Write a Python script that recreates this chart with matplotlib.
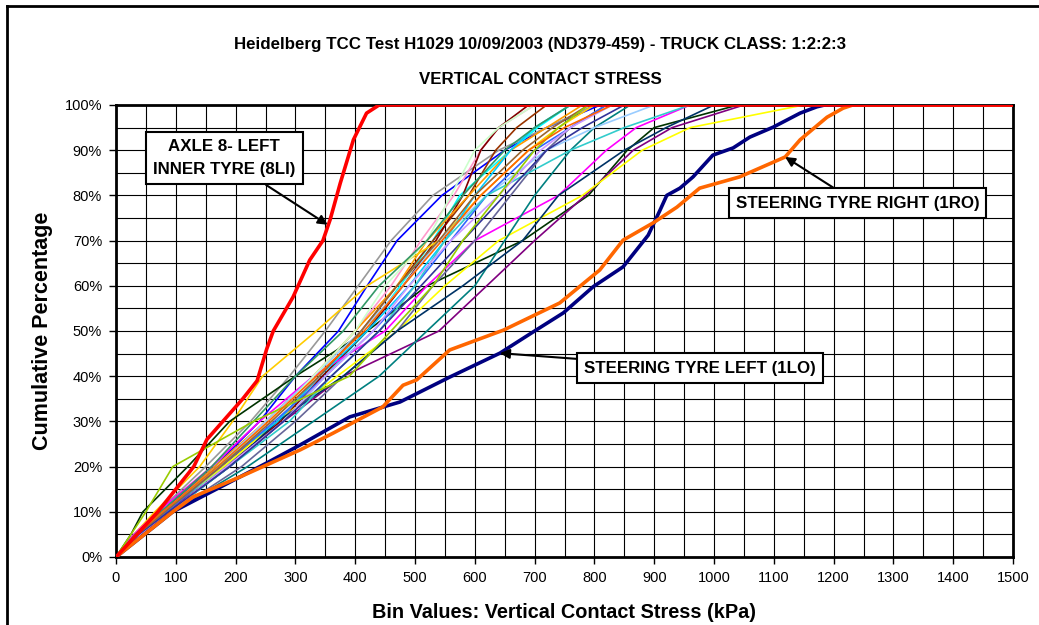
import matplotlib
matplotlib.use("Agg")
import matplotlib.pyplot as plt
from matplotlib.ticker import MultipleLocator, FuncFormatter
from matplotlib.lines import Line2D

plt.rcParams['font.family'] = ['Liberation Sans', 'DejaVu Sans']

# ---------------- data ----------------
title1 = "Heidelberg TCC Test H1029 10/09/2003 (ND379-459) - TRUCK CLASS: 1:2:2:3"
title2 = "VERTICAL CONTACT STRESS"
xlabel = "Bin Values: Vertical Contact Stress (kPa)"
ylabel = "Cumulative Percentage"

# common cumulative-percentage grid for the bundle series (last bin = 1500 kPa)
pct = [0, 5, 10, 20, 30, 40, 50, 60, 70, 80, 90, 95, 100, 100]

bundle_colors = [
    "#0000FF", "#999999", "#00FFFF", "#993300", "#FF99CC", "#800000",
    "#FF9900", "#FFCC00", "#003300", "#800080", "#FF00FF", "#FFFF00",
    "#008080", "#99CCFF", "#666699", "#003366", "#CCFFCC", "#00CCFF",
    "#3366FF", "#339966", "#33CCCC", "#CC99FF", "#333399", "#996633",
    "#99CC00", "#FF6600",
]
bundle_stress = [
    [0, 35, 75, 165, 240, 300, 372, 420, 470, 545, 650, 720, 810, 1500],   # blue
    [0, 30, 70, 150, 225, 290, 350, 405, 460, 530, 640, 720, 800, 1500],   # grey
    [0, 40, 85, 180, 280, 350, 420, 475, 530, 575, 660, 705, 760, 1500],   # cyan
    [0, 40, 85, 175, 270, 340, 410, 470, 530, 590, 635, 670, 720, 1500],   # sienna
    [0, 38, 80, 170, 260, 330, 400, 460, 510, 565, 610, 640, 700, 1500],   # pink
    [0, 40, 90, 185, 275, 345, 420, 480, 535, 580, 610, 640, 690, 1500],   # dark red
    [0, 35, 80, 165, 250, 330, 400, 470, 520, 590, 660, 720, 780, 1500],   # orange
    [0, 30, 65, 140, 195, 245, 335, 420, 540, 610, 690, 740, 800, 1500],   # gold
    [0, 25, 45, 120, 190, 300, 420, 520, 680, 790, 855, 900, 1040, 1500],  # dark green
    [0, 35, 85, 190, 280, 380, 540, 620, 700, 785, 865, 930, 1050, 1500],  # purple
    [0, 30, 70, 160, 240, 330, 450, 520, 600, 740, 820, 870, 960, 1500],   # magenta
    [0, 35, 80, 180, 270, 370, 470, 550, 640, 780, 880, 960, 1150, 1500],  # yellow
    [0, 40, 95, 220, 330, 440, 520, 600, 650, 700, 760, 800, 860, 1500],   # teal
    [0, 35, 80, 170, 250, 330, 410, 480, 540, 620, 720, 800, 900, 1500],   # light blue
    [0, 40, 95, 210, 300, 380, 470, 530, 600, 660, 720, 760, 820, 1500],   # slate
    [0, 38, 90, 190, 270, 380, 470, 580, 680, 740, 850, 920, 1000, 1500],  # dark slate
    [0, 35, 80, 170, 260, 330, 400, 450, 520, 560, 600, 640, 700, 1500],   # light green
    [0, 35, 80, 170, 270, 340, 420, 490, 550, 600, 660, 700, 760, 1500],   # sky blue
    [0, 38, 85, 175, 265, 350, 430, 500, 560, 620, 700, 760, 820, 1500],   # royal blue
    [0, 32, 75, 160, 230, 300, 380, 440, 520, 580, 650, 700, 760, 1500],   # sea green
    [0, 40, 90, 190, 290, 360, 440, 500, 550, 620, 760, 850, 960, 1500],   # turquoise
    [0, 40, 90, 185, 280, 350, 430, 490, 560, 640, 710, 760, 830, 1500],   # lavender
    [0, 38, 88, 190, 280, 360, 440, 510, 580, 650, 720, 780, 850, 1500],   # indigo
    [0, 36, 82, 175, 260, 340, 410, 470, 540, 600, 680, 730, 790, 1500],   # brown
    [0, 25, 50, 95, 230, 390, 460, 530, 580, 640, 700, 740, 790, 1500],    # yellow green
    [0, 34, 78, 170, 255, 335, 415, 480, 545, 610, 690, 750, 830, 1500],   # orange-red thin
]

# highlighted series (own percentage grids)
axle8_pct = [0, 10, 20, 26, 35, 39, 46, 50, 57.5, 65.7, 70, 74.6, 82.7, 92.3, 98.2, 100, 100]
axle8_stress = [0, 70, 130, 152, 212, 236, 252, 263, 296, 324, 346, 358, 375, 397, 419, 440, 1500]

steer_l_pct = [0, 10, 20.8, 24.8, 31, 34.3, 39.8, 45.1, 50, 54, 59.8, 64.2, 71.2, 76.8, 80, 81.6, 84.1, 88.9, 90.5, 92.9, 95.1, 98.2, 99.6, 100, 100]
steer_l_stress = [0, 95, 252, 308, 391, 475, 558, 642, 700, 748, 798, 848, 890, 910, 921, 943, 965, 998, 1032, 1060, 1099, 1144, 1172, 1185, 1500]

steer_r_pct = [0, 10, 13.3, 17.7, 23.7, 27.4, 33.2, 38, 39.2, 45.8, 50.2, 56.2, 63.5, 70.1, 73.9, 77.4, 81.6, 84.1, 88.5, 92.3, 97.3, 99.3, 100, 100]
steer_r_stress = [0, 95, 129, 207, 308, 363, 446, 480, 503, 558, 648, 742, 809, 848, 898, 938, 976, 1043, 1119, 1144, 1189, 1216, 1232, 1500]

# ---------------- figure ----------------
fig = plt.figure(figsize=(10.39, 6.25), dpi=100)
ax = fig.add_axes([116/1039, 1-557/625, (1013-116)/1039, (557-105)/625])

for xs, c in zip(bundle_stress, bundle_colors):
    ax.plot(xs, pct, color=c, lw=1.2, zorder=3, solid_joinstyle='round', clip_on=True)

ax.plot(steer_l_stress, steer_l_pct, color="#000080", lw=2.6, zorder=4)
ax.plot(steer_r_stress, steer_r_pct, color="#FF6600", lw=2.6, zorder=4)
ax.plot(axle8_stress, axle8_pct, color="#FF0000", lw=2.6, zorder=5)

ax.set_xlim(0, 1500)
ax.set_ylim(0, 100)
ax.xaxis.set_major_locator(MultipleLocator(100))
ax.xaxis.set_minor_locator(MultipleLocator(50))
ax.yaxis.set_major_locator(MultipleLocator(10))
ax.yaxis.set_minor_locator(MultipleLocator(5))
ax.yaxis.set_major_formatter(FuncFormatter(lambda v, p: f"{int(round(v))}%"))
ax.grid(which='both', color='black', lw=0.8, zorder=1)
ax.set_axisbelow(True)
ax.tick_params(which='major', direction='out', length=5, width=1, labelsize=10.5, pad=5)
ax.tick_params(which='minor', length=0)
for s in ax.spines.values():
    s.set_linewidth(2)
    s.set_color('black')
    s.set_zorder(2.5)

ax.set_xlabel(xlabel, fontsize=14.3, fontweight='bold', labelpad=13)
ax.set_ylabel(ylabel, fontsize=15.5, fontweight='bold', labelpad=8)

fig.text(540/1039, 1-45/625, title1, ha='center', va='center', fontsize=12.2, fontweight='bold')
fig.text(540/1039, 1-79/625, title2, ha='center', va='center', fontsize=12.2, fontweight='bold')

box = dict(boxstyle='square,pad=0.42', fc='white', ec='black', lw=1.5)
arrow = dict(arrowstyle='-|>', color='black', lw=1.5, mutation_scale=14, shrinkA=0, shrinkB=0)

ax.annotate("AXLE 8- LEFT\nINNER TYRE (8LI)", xy=(354, 73.5), xytext=(181, 88.3),
            ha='center', va='center', fontsize=12.2, fontweight='bold', linespacing=1.7,
            bbox=box, arrowprops=arrow, zorder=10)
ax.annotate("STEERING TYRE RIGHT (1RO)", xy=(1119, 88.5), xytext=(1240, 78.3),
            ha='center', va='center', fontsize=12.2, fontweight='bold',
            bbox=box, arrowprops=arrow, zorder=10)
ax.annotate("STEERING TYRE LEFT (1LO)", xy=(642, 45.1), xytext=(977, 41.8),
            ha='center', va='center', fontsize=12.2, fontweight='bold',
            bbox=box, arrowprops=arrow, zorder=10)

# outer chart frame
fig.add_artist(Line2D([7/1039, 1.0], [1-6/625, 1-6/625], color='black', lw=2, transform=fig.transFigure))
fig.add_artist(Line2D([7/1039, 7/1039], [0, 1-6/625], color='black', lw=2, transform=fig.transFigure))

fig.savefig("out.png", dpi=100)
